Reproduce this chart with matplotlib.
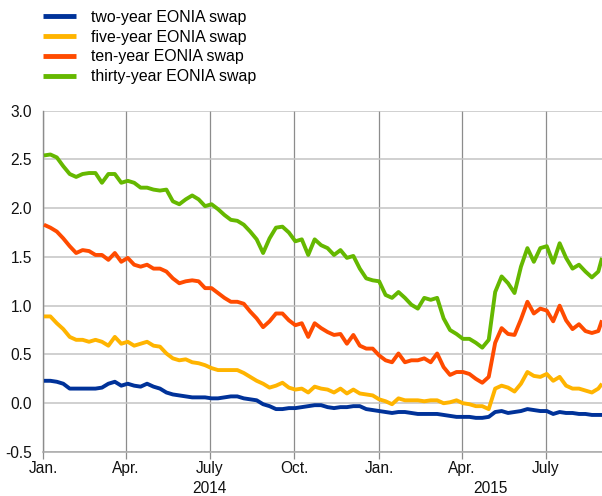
import matplotlib
matplotlib.use("Agg")
import matplotlib.pyplot as plt
import matplotlib.dates as mdates
import matplotlib.transforms as mtransforms
import pandas as pd

# weekly readings from the reference chart (percentages)
dates = list(pd.date_range("2014-01-02", periods=87, freq="7D")) + [pd.Timestamp("2015-08-31")]

two_year = [0.23, 0.23, 0.22, 0.20, 0.15, 0.15, 0.15, 0.15, 0.15, 0.16,
            0.20, 0.22, 0.18, 0.20, 0.18, 0.17, 0.20, 0.17, 0.15, 0.11,
            0.09, 0.08, 0.07, 0.06, 0.06, 0.06, 0.05, 0.05, 0.06, 0.07,
            0.07, 0.05, 0.04, 0.03, -0.01, -0.03, -0.06, -0.06, -0.05, -0.05,
            -0.04, -0.03, -0.02, -0.02, -0.04, -0.05, -0.04, -0.04, -0.03, -0.03,
            -0.06, -0.07, -0.08, -0.09, -0.10, -0.09, -0.09, -0.10, -0.11, -0.11,
            -0.11, -0.11, -0.12, -0.13, -0.14, -0.14, -0.14, -0.15, -0.15, -0.14,
            -0.09, -0.08, -0.10, -0.09, -0.08, -0.06, -0.07, -0.08, -0.08, -0.11,
            -0.09, -0.10, -0.10, -0.11, -0.11, -0.12, -0.12, -0.12]

five_year = [0.89, 0.89, 0.82, 0.76, 0.68, 0.65, 0.65, 0.63, 0.65, 0.63,
             0.59, 0.68, 0.61, 0.63, 0.59, 0.61, 0.63, 0.59, 0.58, 0.51,
             0.46, 0.44, 0.45, 0.42, 0.41, 0.39, 0.36, 0.34, 0.34, 0.34,
             0.34, 0.31, 0.27, 0.23, 0.20, 0.16, 0.18, 0.21, 0.16, 0.14,
             0.15, 0.11, 0.17, 0.15, 0.14, 0.11, 0.15, 0.10, 0.14, 0.10,
             0.09, 0.08, 0.04, 0.02, -0.01, 0.05, 0.03, 0.03, 0.03, 0.02,
             0.03, 0.03, 0.00, 0.01, 0.03, 0.00, -0.01, -0.03, -0.03, -0.06,
             0.15, 0.18, 0.16, 0.12, 0.20, 0.32, 0.28, 0.27, 0.30, 0.23,
             0.27, 0.18, 0.15, 0.15, 0.13, 0.11, 0.15, 0.20]

ten_year = [1.83, 1.80, 1.76, 1.69, 1.61, 1.54, 1.57, 1.56, 1.52, 1.52,
            1.47, 1.54, 1.45, 1.49, 1.42, 1.40, 1.42, 1.38, 1.38, 1.35,
            1.28, 1.23, 1.25, 1.26, 1.25, 1.18, 1.18, 1.13, 1.08, 1.04,
            1.04, 1.02, 0.94, 0.87, 0.78, 0.84, 0.92, 0.92, 0.85, 0.80,
            0.82, 0.68, 0.82, 0.77, 0.73, 0.70, 0.71, 0.61, 0.70, 0.59,
            0.56, 0.56, 0.49, 0.44, 0.42, 0.51, 0.42, 0.44, 0.44, 0.46,
            0.42, 0.51, 0.37, 0.29, 0.32, 0.32, 0.30, 0.25, 0.21, 0.27,
            0.62, 0.77, 0.71, 0.70, 0.86, 1.04, 0.92, 0.97, 0.95, 0.84,
            1.00, 0.85, 0.76, 0.81, 0.74, 0.72, 0.74, 0.85]

thirty_year = [2.54, 2.55, 2.52, 2.43, 2.35, 2.32, 2.35, 2.36, 2.36, 2.26,
               2.35, 2.35, 2.26, 2.28, 2.26, 2.21, 2.21, 2.19, 2.18, 2.19,
               2.07, 2.04, 2.09, 2.13, 2.09, 2.02, 2.04, 1.99, 1.93, 1.88,
               1.87, 1.83, 1.76, 1.68, 1.54, 1.69, 1.80, 1.81, 1.75, 1.66,
               1.68, 1.52, 1.68, 1.62, 1.59, 1.52, 1.57, 1.49, 1.51, 1.38,
               1.28, 1.26, 1.25, 1.11, 1.08, 1.14, 1.08, 1.01, 0.97, 1.08,
               1.06, 1.08, 0.87, 0.75, 0.71, 0.66, 0.66, 0.62, 0.57, 0.65,
               1.14, 1.30, 1.23, 1.13, 1.40, 1.59, 1.45, 1.59, 1.61, 1.44,
               1.64, 1.49, 1.38, 1.42, 1.35, 1.29, 1.35, 1.49]

series_labels = ["two-year EONIA swap", "five-year EONIA swap",
                 "ten-year EONIA swap", "thirty-year EONIA swap"]
series_colors = ["#003299", "#FFB400", "#FF4B00", "#65B800"]

tick_dates = ["2014-01-01", "2014-04-01", "2014-07-01", "2014-10-01",
              "2015-01-01", "2015-04-01", "2015-07-01"]
tick_labels = ["Jan.", "Apr.", "July", "Oct.", "Jan.", "Apr.", "July"]
year_labels = ["2014", "2015"]

plt.rcParams["font.family"] = ["Liberation Sans", "DejaVu Sans"]

fig = plt.figure(figsize=(6.02, 4.96), dpi=100)
ax = fig.add_axes([43 / 602, 1 - 452 / 496, 1 - 43 / 602, (452 - 110.6) / 496])

lines = []
for vals, lab, col in zip([two_year, five_year, ten_year, thirty_year],
                          series_labels, series_colors):
    ln, = ax.plot(dates, vals, color=col, lw=2.8, label=lab,
                  solid_joinstyle="round", solid_capstyle="butt", zorder=3)
    lines.append(ln)

xmin = pd.Timestamp("2014-01-01")
xmax = pd.Timestamp("2015-08-31")
ax.set_xlim(xmin, xmax)
ax.set_ylim(-0.5, 3.0)
ax.set_yticks([-0.5, 0.0, 0.5, 1.0, 1.5, 2.0, 2.5, 3.0])
ax.set_yticklabels(["-0.5", "0.0", "0.5", "1.0", "1.5", "2.0", "2.5", "3.0"])
ax.set_xticks([pd.Timestamp(d) for d in tick_dates])
ax.set_xticklabels(tick_labels)

for s in ["top", "right"]:
    ax.spines[s].set_visible(False)
ax.spines["left"].set_color("#8c8c8c")
ax.spines["left"].set_linewidth(1.0)
ax.spines["bottom"].set_color("#a8a8a8")
ax.spines["bottom"].set_linewidth(1.1)

ax.grid(axis="y", color="#c4c4c4", lw=1.1, zorder=1)
ax.grid(axis="x", color="#8c8c8c", lw=0.9, zorder=1)

ax.tick_params(axis="y", length=0, pad=8, labelsize=11.2, labelcolor="#111111")
ax.tick_params(axis="x", length=5, width=0.9, color="#8c8c8c", pad=1.5,
               labelsize=11.2, labelcolor="#111111", direction="out")

trans = mtransforms.blended_transform_factory(ax.transData, ax.transAxes)
x2014 = mdates.date2num(pd.Timestamp("2014-07-01"))
x2015 = (mdates.date2num(pd.Timestamp("2015-01-01")) + mdates.date2num(xmax)) / 2
for xv, yl in zip([x2014, x2015], year_labels):
    ax.text(xv, -0.107, yl, transform=trans, ha="center", va="center",
            fontsize=11.2, color="#111111")

fig.legend(handles=lines, labels=series_labels, loc="upper left",
           bbox_to_anchor=(43 / 602, 1 - 10 / 496), frameon=False,
           fontsize=11.4, handlelength=2.1, handletextpad=0.95,
           labelspacing=0.3, borderpad=0, borderaxespad=0)
for lh in fig.legends[0].get_lines():
    lh.set_linewidth(3.5)

fig.savefig("out.png", dpi=100)
